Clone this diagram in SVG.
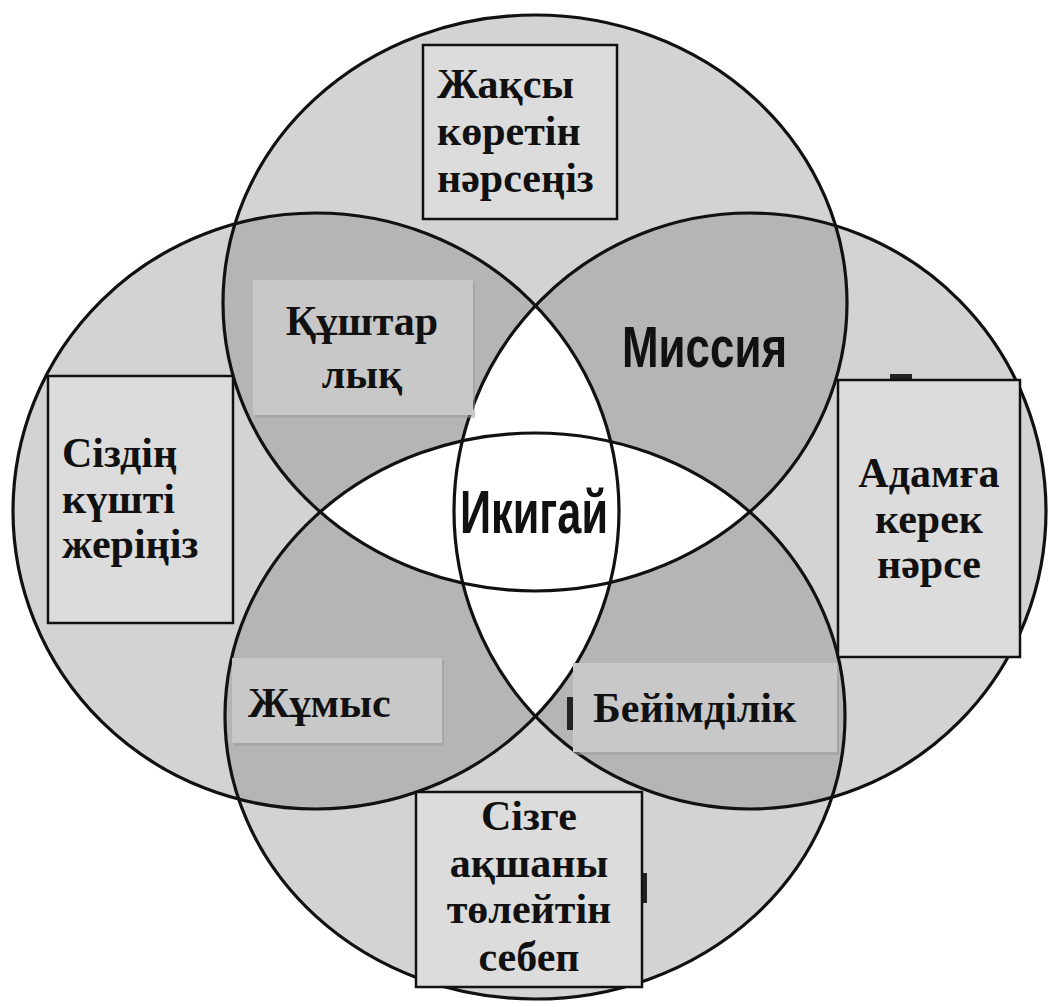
<svg xmlns="http://www.w3.org/2000/svg" width="1049" height="1007" viewBox="0 0 1049 1007">
<style>
.light{fill:#d3d3d3}
.dark{fill:#b5b5b5}
.white{fill:#ffffff}
.edge{fill:none;stroke:#111;stroke-width:3.2}
.obox{fill:#dcdcdc;stroke:#111;stroke-width:2.5}
.ibox{fill:#c8c8c8}
.ishadow{fill:#9a9a9a;opacity:0.5}
.kz{font-family:"Liberation Serif","DejaVu Serif",serif;font-weight:bold;font-size:42px;fill:#111}
.sans{font-family:"Liberation Sans","Arial",sans-serif;font-weight:bold;fill:#111}
.mark{fill:#222}
</style>
<defs>
<ellipse id="eT" cx="535" cy="303" rx="312" ry="288"/>
<ellipse id="eB" cx="535" cy="716" rx="310" ry="283"/>
<ellipse id="eL" cx="316" cy="511" rx="303" ry="298"/>
<ellipse id="eR" cx="750" cy="511" rx="296" ry="298"/>
<clipPath id="cT"><use href="#eT"/></clipPath>
<clipPath id="cB"><use href="#eB"/></clipPath>
<clipPath id="cL"><use href="#eL"/></clipPath>
<clipPath id="cR"><use href="#eR"/></clipPath>
</defs>
<rect width="1049" height="1007" fill="#ffffff"/>
<g id="circles">
<use href="#eT" class="light"/>
<use href="#eB" class="light"/>
<use href="#eL" class="light"/>
<use href="#eR" class="light"/>
<g clip-path="url(#cT)"><use href="#eL" class="dark"/><use href="#eR" class="dark"/></g>
<g clip-path="url(#cB)"><use href="#eL" class="dark"/><use href="#eR" class="dark"/></g>
<g clip-path="url(#cL)"><use href="#eR" class="white"/></g>
<g clip-path="url(#cT)"><use href="#eB" class="white"/></g>
<use href="#eT" class="edge"/>
<use href="#eB" class="edge"/>
<use href="#eL" class="edge"/>
<use href="#eR" class="edge"/>
</g>
<g id="node-top">
<rect class="obox" x="423" y="45" width="194" height="174"/>
<text class="kz" x="437" y="98">Жақсы</text>
<text class="kz" x="437" y="145">көретін</text>
<text class="kz" x="437" y="192">нәрсеңіз</text>
</g>
<g id="node-left">
<rect class="obox" x="48" y="376" width="185" height="247"/>
<text class="kz" x="62" y="467">Сіздің</text>
<text class="kz" x="62" y="513">күшті</text>
<text class="kz" x="62" y="558">жеріңіз</text>
</g>
<g id="node-right">
<rect class="mark" x="890" y="374" width="22" height="6"/>
<rect class="obox" x="838" y="380" width="182" height="277"/>
<text class="kz" x="929" y="487" text-anchor="middle" font-size="40">Адамға</text>
<text class="kz" x="929" y="533" text-anchor="middle" font-size="40">керек</text>
<text class="kz" x="929" y="578" text-anchor="middle" font-size="40">нәрсе</text>
</g>
<g id="node-bottom">
<rect class="mark" x="641" y="873" width="6" height="30"/>
<rect class="obox" x="416" y="792" width="226" height="195"/>
<text class="kz" x="529" y="830" text-anchor="middle">Сізге</text>
<text class="kz" x="529" y="877" text-anchor="middle">ақшаны</text>
<text class="kz" x="529" y="923" text-anchor="middle">төлейтін</text>
<text class="kz" x="529" y="971" text-anchor="middle">себеп</text>
</g>
<g id="node-passion">
<rect class="ishadow" x="255" y="282" width="220" height="136"/>
<rect class="ibox" x="253" y="280" width="220" height="135"/>
<text class="kz" x="362" y="335" text-anchor="middle">Құштар</text>
<text class="kz" x="362" y="388" text-anchor="middle">лық</text>
</g>
<g id="node-mission">
<text class="sans" x="622" y="367" font-size="58" textLength="165" lengthAdjust="spacingAndGlyphs">Миссия</text>
</g>
<g id="node-work">
<rect class="ishadow" x="234" y="660" width="210" height="86"/>
<rect class="ibox" x="232" y="658" width="210" height="85"/>
<text class="kz" x="248" y="717">Жұмыс</text>
</g>
<g id="node-vocation">
<rect class="ishadow" x="575" y="665" width="264" height="90"/>
<rect class="ibox" x="573" y="663" width="264" height="89"/>
<rect class="mark" x="567" y="697" width="6" height="33"/>
<text class="kz" x="593" y="722">Бейімділік</text>
</g>
<g id="node-ikigai">
<text class="sans" x="460" y="533" font-size="62" textLength="148" lengthAdjust="spacingAndGlyphs">Икигай</text>
</g>
<g id="connectors"></g>
</svg>
